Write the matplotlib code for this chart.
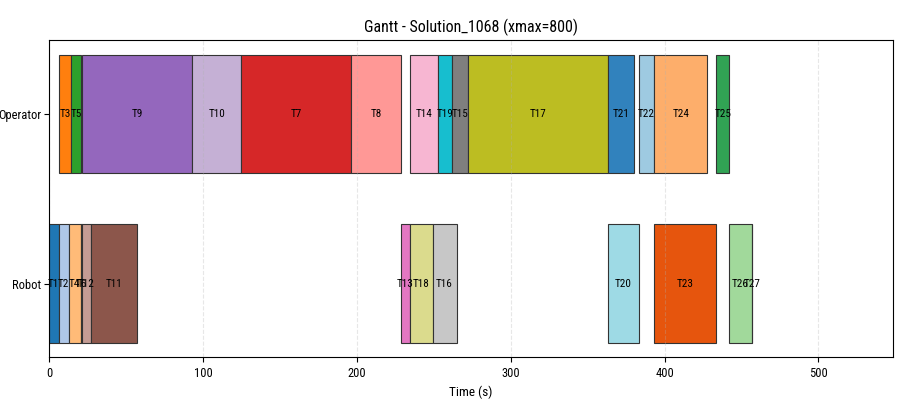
import matplotlib
matplotlib.use("Agg")
import matplotlib.pyplot as plt
from matplotlib import font_manager as fm

# narrow face if one is installed, the labels are tightly packed
avail = {f.name for f in fm.fontManager.ttflist}
family = "DejaVu Sans"
for cand in ["Liberation Sans Narrow", "Roboto Condensed", "Open Sans Condensed", "DejaVu Sans Condensed"]:
    if cand in avail:
        family = cand
        break
else:
    if any(f.name == "DejaVu Sans" and f.stretch == "condensed" for f in fm.fontManager.ttflist):
        plt.rcParams["font.stretch"] = "condensed"
plt.rcParams["font.family"] = [family, "DejaVu Sans"]

resources = ["Robot", "Operator"]

op_tasks = ["T3", "T5", "T9", "T10", "T7", "T8", "T14", "T19", "T15", "T17", "T21", "T22", "T24", "T25"]
op_start = [6.2, 14.5, 21.6, 93.2, 124.7, 196.3, 234.3, 252.5, 261.6, 272.2, 363.2, 383.1, 393.4, 433.4]
op_end = [14.5, 20.9, 93.2, 124.7, 196.3, 228.5, 252.5, 261.6, 272.2, 363.2, 379.8, 393.4, 427.8, 442.1]

rb_tasks = ["T1", "T2", "T4", "T6", "T12", "T11", "T13", "T18", "T16", "T20", "T23", "T26", "T27"]
rb_start = [0.0, 6.2, 12.8, 20.5, 21.6, 27.2, 228.5, 234.6, 249.2, 363.2, 393.4, 442.1, 456.6]
rb_end = [6.2, 12.8, 20.5, 21.6, 27.2, 57.3, 234.6, 249.2, 264.8, 383.1, 433.6, 456.6, 457.0]

task_colors = {
    "T1": "#1f77b4", "T2": "#aec7e8", "T3": "#ff7f0e", "T4": "#ffbb78",
    "T5": "#2ca02c", "T6": "#98df8a", "T7": "#d62728", "T8": "#ff9896",
    "T9": "#9467bd", "T10": "#c5b0d5", "T11": "#8c564b", "T12": "#c49c94",
    "T13": "#e377c2", "T14": "#f7b6d2", "T15": "#7f7f7f", "T16": "#c7c7c7",
    "T17": "#bcbd22", "T18": "#dbdb8d", "T19": "#17becf", "T20": "#9edae5",
    "T21": "#3182bd", "T22": "#9ecae1", "T23": "#e6550d", "T24": "#fdae6b",
    "T25": "#31a354", "T26": "#a1d99b", "T27": "#756bb1",
}

fig, ax = plt.subplots(figsize=(8.98, 4.09), dpi=100)
fig.subplots_adjust(left=0.0546, right=0.9944, top=0.902, bottom=0.126)

rows = [(1, op_tasks, op_start, op_end), (0, rb_tasks, rb_start, rb_end)]
for y, names, starts, ends in rows:
    for name, s, e in zip(names, starts, ends):
        ax.barh(y, e - s, left=s, height=0.7, color=task_colors[name],
                edgecolor="#333333", linewidth=0.8)
        ax.text((s + e) / 2, y, name, ha="center", va="center", fontsize=8)

max_end = max(op_end + rb_end)
ax.set_xlim(0, max_end * 1.2)
ax.set_yticks([0, 1])
ax.set_yticklabels(resources, fontsize=9)
ax.tick_params(axis="y", pad=2)
ax.tick_params(axis="x", labelsize=9)
ax.set_xlabel("Time (s)", fontsize=9.5)
ax.set_title("Gantt - Solution_1068 (xmax=800)", fontsize=11.5)
ax.grid(axis="x", linestyle="--", alpha=0.3)

fig.savefig("out.png", dpi=100)
